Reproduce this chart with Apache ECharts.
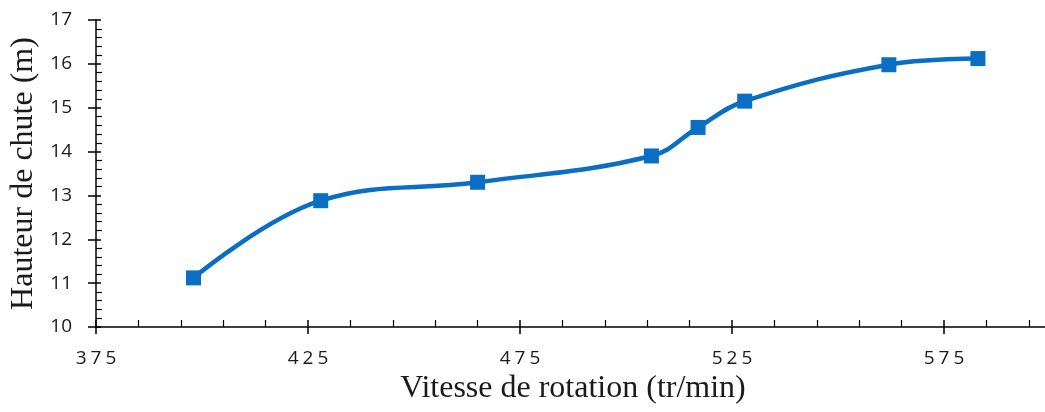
<!DOCTYPE html>
<html>
<head>
<meta charset="utf-8">
<title>Hauteur de chute vs vitesse de rotation</title>
<script src="https://cdn.jsdelivr.net/npm/echarts@6/dist/echarts.min.js"></script>
<style>
  html, body { margin: 0; padding: 0; background: #ffffff; overflow: hidden; }
  #chart { width: 1045px; height: 412px; }
</style>
</head>
<body>
<div id="chart"></div>
<script>
// Rotation speed (tr/min) and head height (m)
const speeds = [398, 428, 465, 506, 517, 528, 562, 583];
const heads = [11.12, 12.88, 13.3, 13.9, 14.55, 15.15, 15.98, 16.12];

// Axis ranges and tick steps
const xRange = [375, 600];
const xMajor = 50;
const yRange = [10, 17];
const yMajor = 1;

const points = speeds.map((s, i) => [s, heads[i]]);

const axisColor = '#000000';
const labelFont = 'Open Sans';
const nameFont = 'Liberation Serif';

// digits drawn as separate rich tokens so they get a little spacing
const spacedDigits = v => String(v).split('').map(c => '{d|' + c + '}').join('');

const chart = echarts.init(document.getElementById('chart'), null, { renderer: 'canvas' });

chart.setOption({
  animation: false,
  backgroundColor: '#ffffff',
  grid: {
    left: 96, right: -5, top: 20, bottom: 85,
    containLabel: false,
    outerBoundsMode: 'none'
  },
  xAxis: [
    {
      // inner ticks: majors + minor subdivisions, drawn above the axis line
      type: 'value', min: xRange[0], max: xRange[1], interval: xMajor,
      position: 'bottom',
      axisLine: { show: true, lineStyle: { color: axisColor, width: 1.5 } },
      axisTick: { show: true, inside: true, length: 7, lineStyle: { color: axisColor, width: 1.5 } },
      minorTick: { show: true, splitNumber: 5, length: 7, lineStyle: { color: axisColor, width: 1.2 } },
      axisLabel: { show: false },
      splitLine: { show: false },
      minorSplitLine: { show: false }
    },
    {
      // outer major ticks, tick labels and title
      type: 'value', min: xRange[0], max: xRange[1], interval: xMajor,
      position: 'bottom', offset: 0,
      axisLine: { show: false },
      axisTick: { show: true, inside: false, length: 7, lineStyle: { color: axisColor, width: 1.5 } },
      axisLabel: {
        show: true, margin: 22, color: '#1a1a1a', fontSize: 19, fontFamily: labelFont,
        showMaxLabel: false,
        formatter: v => (v < xRange[1] ? spacedDigits(v) : ''),
        rich: { d: { fontSize: 19, fontFamily: labelFont, color: '#1a1a1a', padding: [0, 2, 0, 2] } }
      },
      splitLine: { show: false },
      name: 'Vitesse de rotation (tr/min)',
      nameLocation: 'middle',
      nameGap: 46,
      nameTextStyle: { fontFamily: nameFont, fontSize: 32, color: '#1a1a1a' }
    }
  ],
  yAxis: [
    {
      type: 'value', min: yRange[0], max: yRange[1], interval: yMajor,
      position: 'left',
      axisLine: { show: true, lineStyle: { color: axisColor, width: 1.5 } },
      axisTick: { show: true, inside: true, length: 5, lineStyle: { color: axisColor, width: 1.5 } },
      minorTick: { show: true, splitNumber: 5, length: 6, lineStyle: { color: axisColor, width: 1.2 } },
      axisLabel: { show: false },
      splitLine: { show: false },
      minorSplitLine: { show: false }
    },
    {
      type: 'value', min: yRange[0], max: yRange[1], interval: yMajor,
      position: 'left', offset: 0,
      axisLine: { show: false },
      axisTick: { show: true, inside: false, length: 8, lineStyle: { color: axisColor, width: 1.5 } },
      axisLabel: { show: true, margin: 24, color: '#1a1a1a', fontSize: 19, fontFamily: labelFont },
      splitLine: { show: false },
      name: 'Hauteur de chute (m)',
      nameLocation: 'middle',
      nameGap: 53,
      nameRotate: 90,
      nameTextStyle: { fontFamily: nameFont, fontSize: 32, color: '#1a1a1a' }
    }
  ],
  series: [
    {
      type: 'line',
      xAxisIndex: 0,
      yAxisIndex: 0,
      data: points,
      smooth: 0.4,
      symbol: 'rect',
      symbolSize: 15,
      lineStyle: { color: '#0A6EC4', width: 4.5 },
      itemStyle: { color: '#0A6EC4' },
      z: 5
    }
  ]
});
</script>
</body>
</html>
